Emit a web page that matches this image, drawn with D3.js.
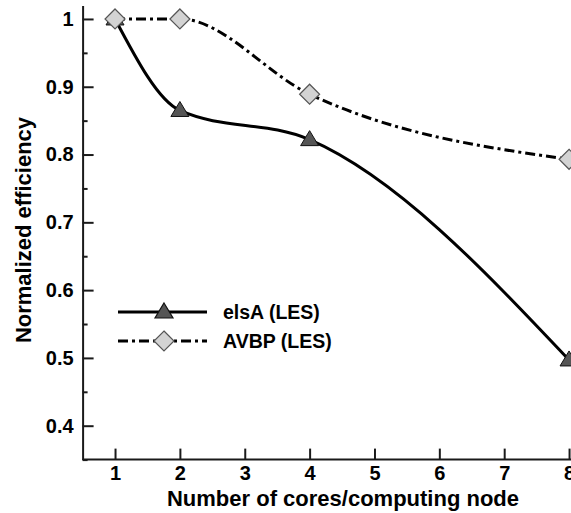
<!DOCTYPE html>
<html>
<head>
<meta charset="utf-8">
<script src="https://cdn.jsdelivr.net/npm/d3@7"></script>
<style>
  html, body { margin: 0; padding: 0; background: #fff; }
  svg { display: block; font-family: "Liberation Sans", Arial, Helvetica, sans-serif; font-weight: bold; }
</style>
</head>
<body>
<svg id="chart" width="571" height="513"></svg>
<script>
// Cores per computing node
const cores = [1, 2, 4, 8];
// Normalized efficiency per solver
const elsA = [1.0, 0.865, 0.822, 0.497];
const avbp = [1.0, 1.0, 0.889, 0.793];
const seriesNames = ["elsA (LES)", "AVBP (LES)"];
const xTicks = [1, 2, 3, 4, 5, 6, 7, 8];
const yTicks = [0.4, 0.5, 0.6, 0.7, 0.8, 0.9, 1];
const yMinorTicks = [0.35, 0.45, 0.55, 0.65, 0.75, 0.85, 0.95];

const svg = d3.select("#chart");

const x = d3.scaleLinear().domain([0.5, 8.03]).range([82.6, 571]);
const y = d3.scaleLinear().domain([0.35, 1.02]).range([459.6, 5.4]);

const axisColor = "#1a1a1a";
const fontFamily = "Liberation Sans, Arial, sans-serif";

// X axis: ticks pointing into the plot
const xAxis = svg.append("g")
  .attr("transform", `translate(0,${y(0.35)})`)
  .call(d3.axisBottom(x).tickValues(xTicks).tickFormat(d3.format("d")).tickSizeInner(-11).tickSizeOuter(0).tickPadding(6));
xAxis.select(".domain").attr("stroke", axisColor).attr("stroke-width", 2).attr("d", `M${x(0.5)},0H571`);
xAxis.selectAll(".tick line").attr("stroke", axisColor).attr("stroke-width", 2);
xAxis.selectAll(".tick text").attr("fill", "#000").style("font-size", "20px").style("font-weight", "bold").style("font-family", fontFamily);

// Y axis: major and minor ticks pointing into the plot
const yAxis = svg.append("g")
  .attr("transform", `translate(${x(0.5)},0)`)
  .call(d3.axisLeft(y).tickValues(yTicks).tickFormat(d => d === 1 ? "1" : d3.format(".1f")(d)).tickSizeInner(-11).tickSizeOuter(0).tickPadding(9));
yAxis.select(".domain").attr("stroke", axisColor).attr("stroke-width", 2);
yAxis.selectAll(".tick line").attr("stroke", axisColor).attr("stroke-width", 2);
yAxis.selectAll(".tick text").attr("fill", "#000").style("font-size", "20px").style("font-weight", "bold").style("font-family", fontFamily);

const yMinor = svg.append("g")
  .attr("transform", `translate(${x(0.5)},0)`)
  .call(d3.axisLeft(y).tickValues(yMinorTicks).tickFormat("").tickSizeInner(-5).tickSizeOuter(0));
yMinor.select(".domain").remove();
yMinor.selectAll(".tick line").attr("stroke", axisColor).attr("stroke-width", 2);

// Axis titles
svg.append("text")
  .attr("x", 343).attr("y", 506)
  .attr("text-anchor", "middle")
  .style("font-size", "22px")
  .text("Number of cores/computing node");

svg.append("text")
  .attr("transform", `translate(31,230) rotate(-90)`)
  .attr("text-anchor", "middle")
  .style("font-size", "22px")
  .text("Normalized efficiency");

// Curves
const line = d3.line()
  .x(d => x(d[0]))
  .y(d => y(d[1]))
  .curve(d3.curveMonotoneX);

const elsAPts = cores.map((c, i) => [c, elsA[i]]);
const avbpPts = cores.map((c, i) => [c, avbp[i]]);

const dashDot = "10,4,3,4";

svg.append("path").datum(avbpPts)
  .attr("d", line).attr("fill", "none")
  .attr("stroke", "#000").attr("stroke-width", 3)
  .attr("stroke-dasharray", dashDot);

svg.append("path").datum(elsAPts)
  .attr("d", line).attr("fill", "none")
  .attr("stroke", "#000").attr("stroke-width", 3);

// Marker shapes
const triPath = "M0,-9L9,6L-9,6Z";
const diaPath = "M0,-10L10,0L0,10L-10,0Z";

svg.append("g").selectAll("path").data(elsAPts).join("path")
  .attr("transform", d => `translate(${x(d[0])},${y(d[1])})`)
  .attr("d", triPath)
  .attr("fill", "#555")
  .attr("stroke", "#111").attr("stroke-width", 1);

svg.append("g").selectAll("path").data(avbpPts).join("path")
  .attr("transform", d => `translate(${x(d[0])},${y(d[1])})`)
  .attr("d", diaPath)
  .attr("fill", "#d3d3d3")
  .attr("stroke", "#555").attr("stroke-width", 1.2);

// Legend
const legend = svg.append("g");
const legRows = [
  { name: seriesNames[0], y: 312, dash: null, marker: triPath, fill: "#555", stroke: "#111" },
  { name: seriesNames[1], y: 341, dash: dashDot, marker: diaPath, fill: "#d3d3d3", stroke: "#555" }
];
legRows.forEach(r => {
  legend.append("line")
    .attr("x1", 118).attr("x2", 207).attr("y1", r.y).attr("y2", r.y)
    .attr("stroke", "#000").attr("stroke-width", 3)
    .attr("stroke-dasharray", r.dash);
  legend.append("path")
    .attr("transform", `translate(164,${r.y})`)
    .attr("d", r.marker)
    .attr("fill", r.fill).attr("stroke", r.stroke).attr("stroke-width", 1.2);
  legend.append("text")
    .attr("x", 223).attr("y", r.y + 7)
    .style("font-size", "19.5px")
    .text(r.name);
});
</script>
</body>
</html>
